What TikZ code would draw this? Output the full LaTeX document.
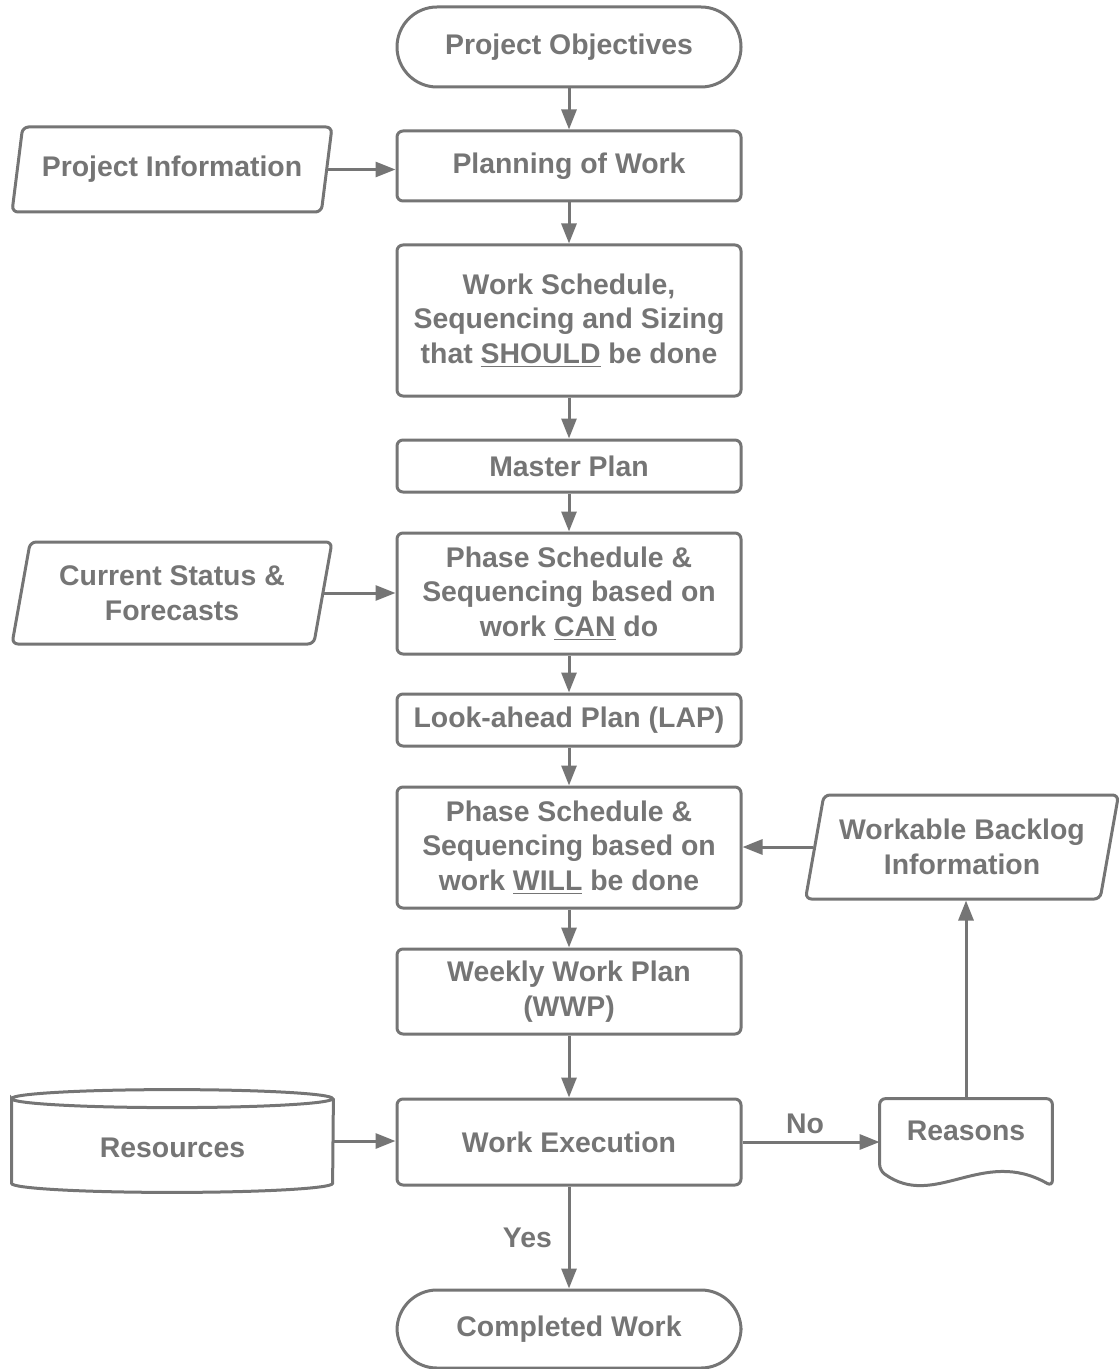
\documentclass[tikz,border=0pt]{standalone}
\usepackage{fontspec}
\setmainfont{Liberation Sans}
\usetikzlibrary{shapes.geometric,arrows.meta}
\definecolor{flowgray}{RGB}{117,117,117}
\tikzset{
	grayline/.style={draw=flowgray, line width=1.5pt},
	flow/.style={grayline, -{Triangle[length=10pt,width=7.5pt]}},
	txt/.style={text=flowgray, font=\bfseries\fontsize{14.2}{17.25}\selectfont, align=center},
	proc/.style={txt, grayline, rectangle, rounded corners=3pt, minimum width=172pt, inner sep=0pt},
	term/.style={txt, grayline, rectangle, rounded corners=20pt, minimum width=172pt, minimum height=40pt},
	io/.style={txt, grayline, trapezium, trapezium left angle=75, trapezium right angle=105, trapezium stretches body, rounded corners=3pt, minimum width=160pt},
	store/.style={txt, minimum width=160.5pt, minimum height=51pt, text height=17pt},
	doc/.style={txt, minimum width=86pt, minimum height=43.5pt, text depth=12pt},
}
\begin{document}
\begin{tikzpicture}[x=0.5pt, y=0.5pt]
		% поле рисунка
		\useasboundingbox ( 0, 0 ) rectangle ( 1119, -1369 );

		% основной столбец
		\node [term] (obj) at ( 569, -47 ) {Project Objectives};
		\node [proc, minimum height=35pt] (plan) at ( 569, -166 ) {Planning of Work};
		\node [proc, minimum height=75.5pt] (sched) at ( 569, -320.5 ) {Work Schedule,\\Sequencing and Sizing\\that \underline{SHOULD} be done};
		\node [proc, minimum height=26pt] (master) at ( 569, -466 ) {Master Plan};
		\node [proc, minimum height=60.5pt] (can) at ( 569, -593.5 ) {Phase Schedule \&\\Sequencing based on\\work \underline{CAN} do};
		\node [proc, minimum height=26pt] (lap) at ( 569, -720 ) {Look-ahead Plan (LAP)};
		\node [proc, minimum height=60.5pt] (will) at ( 569, -847.5 ) {Phase Schedule \&\\Sequencing based on\\work \underline{WILL} be done};
		\node [proc, minimum height=42.5pt] (wwp) at ( 569, -991.5 ) {Weekly Work Plan\\(WWP)};
		\node [proc, minimum height=43pt] (exec) at ( 569, -1142 ) {Work Execution};
		\node [term, minimum height=39pt] (done) at ( 569, -1329 ) {Completed Work};

		% входные данные
		\node [io, minimum height=42.5pt] (info) at ( 172, -169.5 ) {Project Information};
		\node [io, minimum height=51pt] (status) at ( 172, -593 ) {Current Status \&\\Forecasts};
		\node [io, minimum height=52pt, minimum width=156.5pt] (bklg) at ( 962, -847 ) {Workable Backlog\\Information};

		% ресурсы
		\node [store] (res) at ( 172.5, -1141 ) {Resources};
		\draw [grayline] ([yshift=-4.5pt]res.north west) arc [start angle=180, end angle=-180, x radius=80.25pt, y radius=4.5pt]
			-- ([yshift=4.5pt]res.south west) arc [start angle=180, end angle=360, x radius=80.25pt, y radius=4.5pt]
			-- ([yshift=-4.5pt]res.north east);

		% причины
		\node [doc] (why) at ( 966, -1142.5 ) {Reasons};
		\draw [grayline, rounded corners=3pt] (why.south east) .. controls +( -70, 40 ) and +( 55, -40 ) .. ([yshift=8pt]why.south west)
			-- (why.north west) -- (why.north east) -- cycle;

		% стрелки
		\draw [flow] (obj.south) -- (plan.north);
		\draw [flow] (plan.south) -- (sched.north);
		\draw [flow] (sched.south) -- (master.north);
		\draw [flow] (master.south) -- (can.north);
		\draw [flow] (can.south) -- (lap.north);
		\draw [flow] (lap.south) -- (will.north);
		\draw [flow] (will.south) -- (wwp.north);
		\draw [flow] (wwp.south) -- (exec.north);
		\draw [flow] (exec.south) -- (done.north) node [txt, midway, left=4.5pt] {Yes};
		\draw [flow] (info.east) -- (info.east -| plan.west);
		\draw [flow] (status.east) -- (status.east -| can.west);
		\draw [flow] (bklg.west) -- (bklg.west -| will.east);
		\draw [flow] (res.east) -- (res.east -| exec.west);
		\draw [flow] (exec.east) -- (exec.east -| why.west) node [txt, midway, above, xshift=-3pt] {No};
		\draw [flow] (why.north) -- (why.north |- bklg.south);
	\end{tikzpicture}
\end{document}
